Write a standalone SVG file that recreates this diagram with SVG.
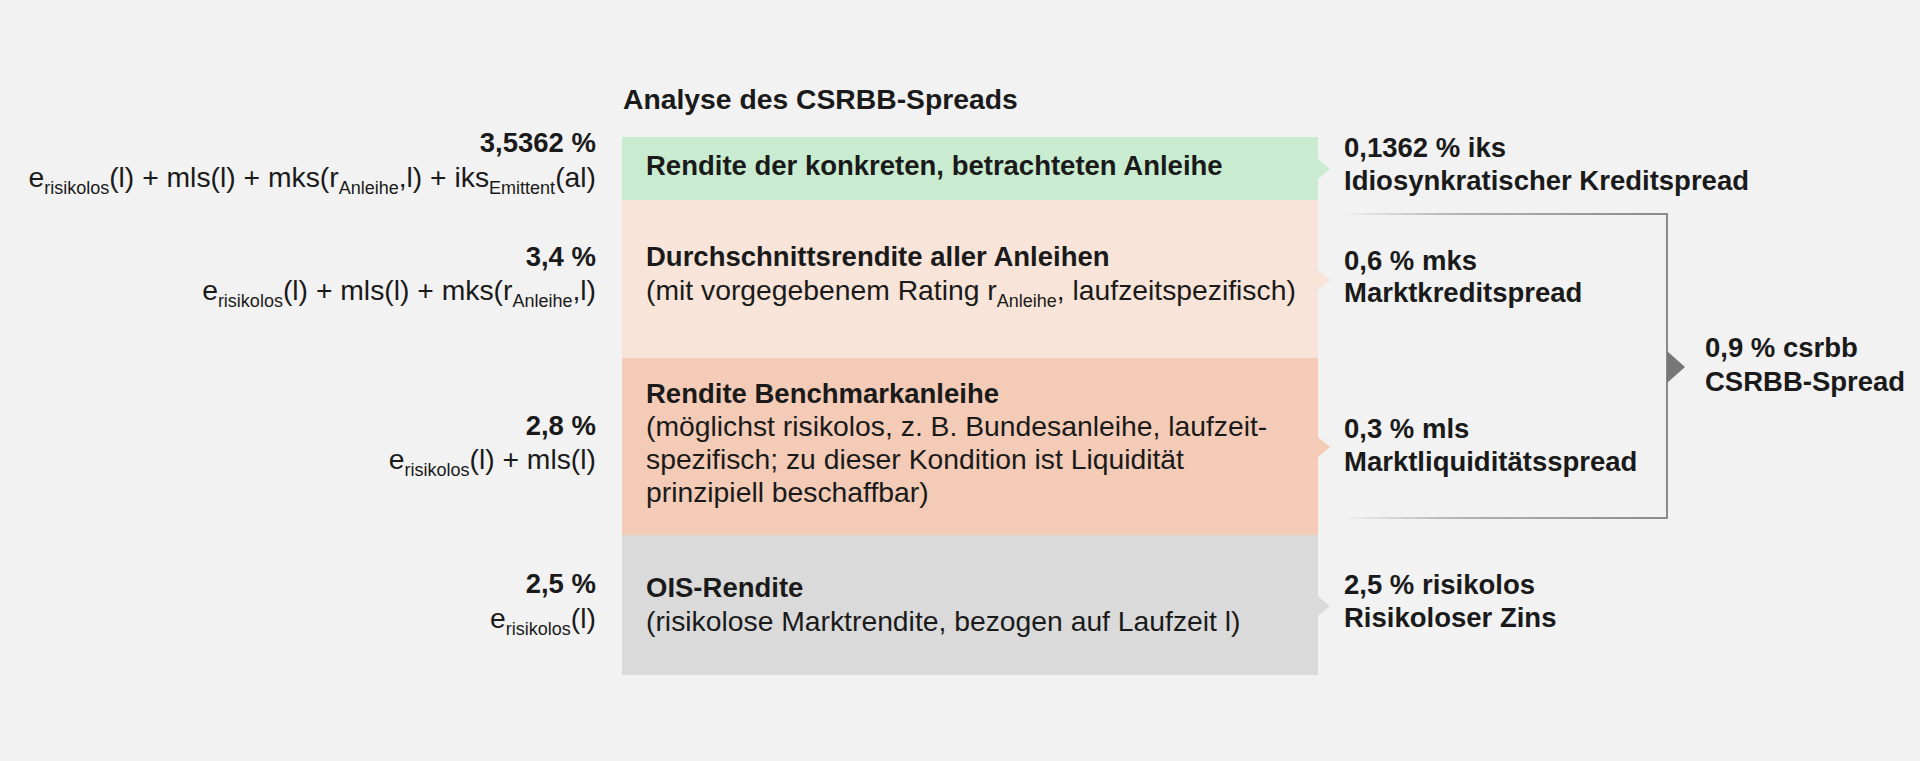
<svg xmlns="http://www.w3.org/2000/svg" width="1920" height="761" viewBox="0 0 1920 761">
<style>
text{font-family:"Liberation Sans",Arial,sans-serif;fill:#1a1a1a}
.b{font-weight:bold;font-size:27.5px}
.r{font-size:28.3px}
.t{font-weight:bold;font-size:28.3px}
.s{font-size:18px}
.end{text-anchor:end}
.br{stroke:#8a8a8a;stroke-width:2;fill:none}
</style>
<defs>
<linearGradient id="fade" gradientUnits="userSpaceOnUse" x1="1340" y1="0" x2="1667" y2="0">
<stop offset="0" stop-color="#8a8a8a" stop-opacity="0"/>
<stop offset="0.35" stop-color="#8a8a8a" stop-opacity="0.6"/>
<stop offset="1" stop-color="#8a8a8a" stop-opacity="1"/>
</linearGradient>
</defs>
<rect width="1920" height="761" fill="#f2f2f2"/>
<text id="title" class="t" x="623" y="109">Analyse des CSRBB-Spreads</text>

<g id="box-anleihe">
<rect x="622" y="137" width="696" height="63" fill="#c9ecd1"/>
<polygon points="1318,159 1330,169 1318,179" fill="#c9ecd1"/>
<text class="b" x="646" y="175">Rendite der konkreten, betrachteten Anleihe</text>
</g>
<g id="box-durchschnitt">
<rect x="622" y="200" width="696" height="158" fill="#f8e4d8"/>
<polygon points="1318,270 1330,280 1318,290" fill="#f8e4d8"/>
<text class="b" x="646" y="266">Durchschnittsrendite aller Anleihen</text>
<text class="r" x="646" y="300">(mit vorgegebenem Rating r<tspan class="s" dy="7">Anleihe</tspan><tspan dy="-7">, laufzeitspezifisch)</tspan></text>
</g>
<g id="box-benchmark">
<rect x="622" y="358" width="696" height="177" fill="#f3cbb6"/>
<polygon points="1318,437 1330,447 1318,457" fill="#f3cbb6"/>
<text class="b" x="646" y="403">Rendite Benchmarkanleihe</text>
<text class="r" x="646" y="436">(möglichst risikolos, z. B. Bundesanleihe, laufzeit-</text>
<text class="r" x="646" y="469">spezifisch; zu dieser Kondition ist Liquidität</text>
<text class="r" x="646" y="502">prinzipiell beschaffbar)</text>
</g>
<g id="box-ois">
<rect x="622" y="535" width="696" height="140" fill="#dadada"/>
<polygon points="1318,596 1330,606 1318,616" fill="#dadada"/>
<text class="b" x="646" y="597">OIS-Rendite</text>
<text class="r" x="646" y="631">(risikolose Marktrendite, bezogen auf Laufzeit l)</text>
</g>

<g id="left-anleihe">
<text class="b end" x="596" y="152">3,5362 %</text>
<text class="r end" x="596" y="187">e<tspan class="s" dy="7">risikolos</tspan><tspan dy="-7">(l) + mls(l) + mks(r</tspan><tspan class="s" dy="7">Anleihe</tspan><tspan dy="-7">,l) + iks</tspan><tspan class="s" dy="7">Emittent</tspan><tspan dy="-7">(al)</tspan></text>
</g>
<g id="left-durchschnitt">
<text class="b end" x="596" y="266">3,4 %</text>
<text class="r end" x="596" y="300">e<tspan class="s" dy="7">risikolos</tspan><tspan dy="-7">(l) + mls(l) + mks(r</tspan><tspan class="s" dy="7">Anleihe</tspan><tspan dy="-7">,l)</tspan></text>
</g>
<g id="left-benchmark">
<text class="b end" x="596" y="435">2,8 %</text>
<text class="r end" x="596" y="469">e<tspan class="s" dy="7">risikolos</tspan><tspan dy="-7">(l) + mls(l)</tspan></text>
</g>
<g id="left-ois">
<text class="b end" x="596" y="593">2,5 %</text>
<text class="r end" x="596" y="628">e<tspan class="s" dy="7">risikolos</tspan><tspan dy="-7">(l)</tspan></text>
</g>

<g id="right-iks">
<text class="b" x="1344" y="157">0,1362 % iks</text>
<text class="b" x="1344" y="190">Idiosynkratischer Kreditspread</text>
</g>
<g id="right-mks">
<text class="b" x="1344" y="270">0,6 % mks</text>
<text class="b" x="1344" y="302">Marktkreditspread</text>
</g>
<g id="right-mls">
<text class="b" x="1344" y="438">0,3 % mls</text>
<text class="b" x="1344" y="471">Marktliquiditätsspread</text>
</g>
<g id="right-risikolos">
<text class="b" x="1344" y="594">2,5 % risikolos</text>
<text class="b" x="1344" y="627">Risikoloser Zins</text>
</g>
<g id="right-csrbb">
<text class="b" x="1705" y="357">0,9 % csrbb</text>
<text class="b" x="1705" y="391">CSRBB-Spread</text>
</g>

<g id="connectors">
<line x1="1340" y1="214" x2="1667" y2="214" stroke="url(#fade)" stroke-width="2"/>
<line x1="1340" y1="518" x2="1667" y2="518" stroke="url(#fade)" stroke-width="2"/>
<line class="br" x1="1667" y1="213" x2="1667" y2="519"/>
<polygon points="1667,351 1685,367 1667,383" fill="#777777"/>
</g>
</svg>
